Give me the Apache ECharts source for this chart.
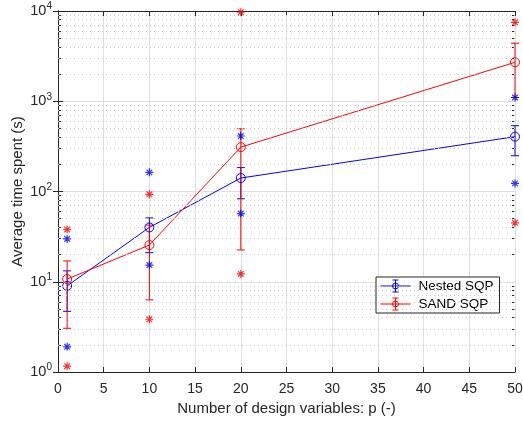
<!DOCTYPE html>
<html>
<head>
<meta charset="utf-8">
<script src="https://cdn.jsdelivr.net/npm/echarts@6/dist/echarts.min.js"></script>
<style>
  html, body { margin: 0; padding: 0; background: #fff; }
  #chart { width: 523px; height: 421px; }
</style>
</head>
<body>
<div id="chart"></div>
<script>
// design variable counts
const pValues = [1, 10, 20, 50]

// Nested SQP: mean, error bar low/high, min/max (stars)
const nestedMean = [9, 40, 141, 405]
const nestedLow = [4.7, 21, 83, 249]
const nestedHigh = [13.2, 51, 184, 536]
const nestedMin = [1.9, 15.3, 57, 123]
const nestedMax = [29.8, 163, 412, 1100]

// SAND SQP
const sandMean = [10.7, 25.5, 310, 2700]
const sandLow = [3.05, 6.3, 22.5, 1100]
const sandHigh = [17, 42.5, 495, 4400]
const sandMin = [1.16, 3.84, 12.2, 45]
const sandMax = [38, 93, 9700, 7500]

const yMinor = []
for (let d = 1; d < 10000; d *= 10) {
  for (let m = 2; m <= 9; m++) yMinor.push(m * d)
}

const BLUE = '#0000ff'
const RED = '#ff0000'
const AXIS = '#262626'
const FONT = "'Liberation Sans', Arial, sans-serif"

const starPath = 'path://M5,0L5,10M0,5L10,5M1.5,1.5L8.5,8.5M1.5,8.5L8.5,1.5'
const legendIcon = 'path://M0,8L40,8M20,0L20,16M16,0L24,0M16,16L24,16M24,8A4,4 0 1 1 16,8A4,4 0 1 1 24,8'

function errorBars(name, color, low, high) {
  return {
    name,
    type: 'custom',
    silent: true,
    z: 3,
    data: pValues.map((p, i) => [p, low[i], high[i]]),
    renderItem(params, api) {
      const top = api.coord([api.value(0), api.value(2)])
      const bot = api.coord([api.value(0), api.value(1)])
      const w = 4
      const style = { stroke: color, lineWidth: 1 }
      return {
        type: 'group',
        children: [
          { type: 'line', shape: { x1: top[0], y1: top[1], x2: bot[0], y2: bot[1] }, style },
          { type: 'line', shape: { x1: top[0] - w, y1: top[1], x2: top[0] + w, y2: top[1] }, style },
          { type: 'line', shape: { x1: bot[0] - w, y1: bot[1], x2: bot[0] + w, y2: bot[1] }, style }
        ]
      }
    }
  }
}

function meanLine(name, color, values) {
  return {
    name,
    type: 'line',
    z: 4,
    data: pValues.map((p, i) => [p, values[i]]),
    symbol: 'circle',
    symbolSize: 9,
    itemStyle: { color: 'transparent', borderColor: color, borderWidth: 1 },
    lineStyle: { color, width: 1 },
    emphasis: { disabled: true }
  }
}

function stars(color, mins, maxs) {
  return {
    type: 'scatter',
    z: 5,
    data: pValues.map((p, i) => [p, mins[i]]).concat(pValues.map((p, i) => [p, maxs[i]])),
    symbol: starPath,
    symbolSize: 8,
    itemStyle: { color: 'transparent', borderColor: color, borderWidth: 1.2 },
    emphasis: { disabled: true }
  }
}

const chart = echarts.init(document.getElementById('chart'))

const supLabel = v => '10{sup|' + Math.round(Math.log10(v)) + '}'

chart.setOption({
  animation: false,
  textStyle: { fontFamily: FONT },
  grid: { left: 58, right: 8, top: 11, bottom: 49, outerBoundsMode: 'none', containLabel: false },
  legend: {
    orient: 'vertical',
    left: 376,
    top: 277,
    padding: [2, 6, 2, 4],
    itemGap: 4,
    itemWidth: 42,
    itemHeight: 12,
    backgroundColor: '#fff',
    borderColor: AXIS,
    borderWidth: 1,
    borderRadius: 0,
    textStyle: { fontSize: 13.5, color: '#000', fontFamily: FONT, padding: [0, 0, 0, -3] },
    data: [
      { name: 'Nested SQP', icon: legendIcon, itemStyle: { color: 'transparent', borderColor: BLUE, borderWidth: 1 } },
      { name: 'SAND SQP', icon: legendIcon, itemStyle: { color: 'transparent', borderColor: RED, borderWidth: 1 } }
    ]
  },
  xAxis: [
    {
      type: 'value',
      min: 0,
      max: 50,
      interval: 5,
      position: 'bottom',
      name: 'Number of design variables: p (-)',
      nameLocation: 'middle',
      nameGap: 28,
      nameTextStyle: { fontSize: 15, color: AXIS, fontFamily: FONT },
      axisLine: { lineStyle: { color: AXIS, width: 1 } },
      axisTick: { inside: true, length: 5, lineStyle: { color: AXIS } },
      axisLabel: { fontSize: 14, color: AXIS, margin: 10, fontFamily: FONT },
      splitLine: { show: true, lineStyle: { color: '#dfdfdf', width: 1 } }
    },
    {
      type: 'value',
      min: 0,
      max: 50,
      interval: 5,
      position: 'top',
      axisLine: { lineStyle: { color: AXIS, width: 1 } },
      axisTick: { inside: true, length: 5, lineStyle: { color: AXIS } },
      axisLabel: { show: false },
      splitLine: { show: false }
    }
  ],
  yAxis: [
    {
      type: 'log',
      logBase: 10,
      min: 1,
      max: 10000,
      position: 'left',
      name: 'Average time spent (s)',
      nameLocation: 'middle',
      nameGap: 33,
      nameMoveOverlap: false,
      nameTextStyle: { fontSize: 15, color: AXIS, fontFamily: FONT },
      axisLine: { show: true, lineStyle: { color: AXIS, width: 1 } },
      axisTick: { inside: true, length: 5, lineStyle: { color: AXIS } },
      axisLabel: {
        fontSize: 14.5,
        color: AXIS,
        margin: 6,
        fontFamily: FONT,
        formatter: supLabel,
        rich: { sup: { fontSize: 10, verticalAlign: 'top', padding: [0, 0, 9, 0], color: AXIS, fontFamily: FONT } }
      },
      splitLine: { show: true, lineStyle: { color: '#dfdfdf', width: 1 } }
    },
    {
      type: 'log',
      logBase: 10,
      min: 1,
      max: 10000,
      position: 'right',
      axisLine: { show: true, lineStyle: { color: AXIS, width: 1 } },
      axisTick: { inside: true, length: 5, lineStyle: { color: AXIS } },
      axisLabel: { show: false },
      splitLine: { show: false }
    },
    {
      type: 'log',
      logBase: 10,
      min: 1,
      max: 10000,
      position: 'left',
      axisLine: { show: false },
      axisTick: { inside: true, length: 3, customValues: yMinor, lineStyle: { color: AXIS } },
      axisLabel: { show: false, customValues: yMinor },
      splitLine: { show: false }
    },
    {
      type: 'log',
      logBase: 10,
      min: 1,
      max: 10000,
      position: 'right',
      axisLine: { show: false },
      axisTick: { inside: true, length: 3, customValues: yMinor, lineStyle: { color: AXIS } },
      axisLabel: { show: false, customValues: yMinor },
      splitLine: { show: false }
    }
  ],
  series: [
    {
      // dotted minor grid lines of the log axis
      type: 'line',
      data: [],
      silent: true,
      z: 1,
      markLine: {
        silent: true,
        symbol: 'none',
        label: { show: false },
        lineStyle: { color: '#c8c8c8', type: [1, 3], width: 1 },
        data: yMinor.map(v => ({ yAxis: v }))
      }
    },
    errorBars('Nested SQP', BLUE, nestedLow, nestedHigh),
    meanLine('Nested SQP', BLUE, nestedMean),
    errorBars('SAND SQP', RED, sandLow, sandHigh),
    meanLine('SAND SQP', RED, sandMean),
    stars(BLUE, nestedMin, nestedMax),
    stars(RED, sandMin, sandMax)
  ]
})
</script>
</body>
</html>
